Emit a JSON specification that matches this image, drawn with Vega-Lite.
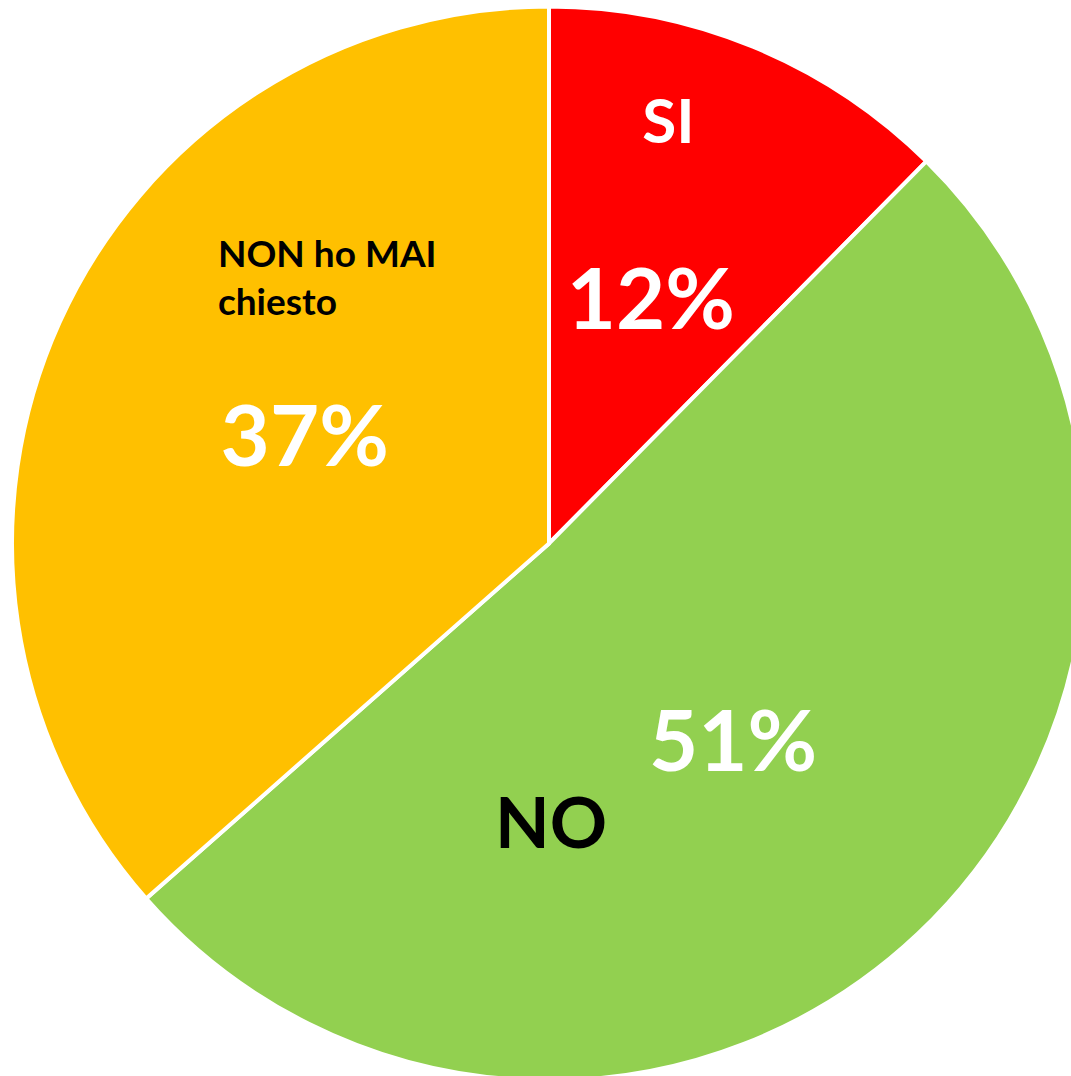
{
  "$schema": "https://vega.github.io/schema/vega-lite/v6.json",
  "width": 1098,
  "height": 1087,
  "padding": 0,
  "autosize": {"type": "none"},
  "background": "white",
  "view": {"stroke": null},
  "config": {"text": {"font": "Lato", "fontWeight": "bold", "lineBreak": "\n"}},
  "data": {
    "values": [
      {"cat": "SI", "label": "SI", "value": 12.4, "pct": "12%", "ord": 1},
      {"cat": "NO", "label": "NO", "value": 51.1, "pct": "51%", "ord": 2},
      {"cat": "NON ho MAI chiesto", "label": "NON ho MAI\nchiesto", "value": 36.5, "pct": "37%", "ord": 3}
    ]
  },
  "encoding": {
    "theta": {"field": "value", "type": "quantitative", "stack": true},
    "order": {"field": "ord", "type": "quantitative"},
    "color": {
      "field": "cat",
      "type": "nominal",
      "scale": {"domain": ["SI", "NO", "NON ho MAI chiesto"], "range": ["#FF0000", "#92D050", "#FFC000"]},
      "legend": null
    }
  },
  "layer": [
    {"mark": {"type": "arc", "outerRadius": 537, "stroke": "white", "strokeWidth": 4}},
    {
      "mark": {"type": "text", "radius": 268, "fontSize": 85, "baseline": "middle", "align": "center", "dy": 7},
      "encoding": {"text": {"field": "pct"}, "color": {"value": "white"}}
    },
    {
      "mark": {"type": "text", "radius": 420, "fontSize": 62, "baseline": "alphabetic", "align": "center", "dx": -40, "dy": -12},
      "encoding": {"text": {"condition": {"test": "datum.cat == 'SI'", "field": "label"}, "value": ""}, "color": {"value": "white"}}
    },
    {
      "mark": {"type": "text", "radius": 300, "fontSize": 71, "baseline": "alphabetic", "align": "center", "dx": -204, "dy": 86},
      "encoding": {"text": {"condition": {"test": "datum.cat == 'NO'", "field": "label"}, "value": ""}, "color": {"value": "black"}}
    },
    {
      "mark": {"type": "text", "radius": 360, "fontSize": 37, "lineHeight": 48, "baseline": "alphabetic", "align": "left", "dx": -3, "dy": -128},
      "encoding": {"text": {"condition": {"test": "datum.cat == 'NON ho MAI chiesto'", "field": "label"}, "value": ""}, "color": {"value": "black"}}
    }
  ]
}
